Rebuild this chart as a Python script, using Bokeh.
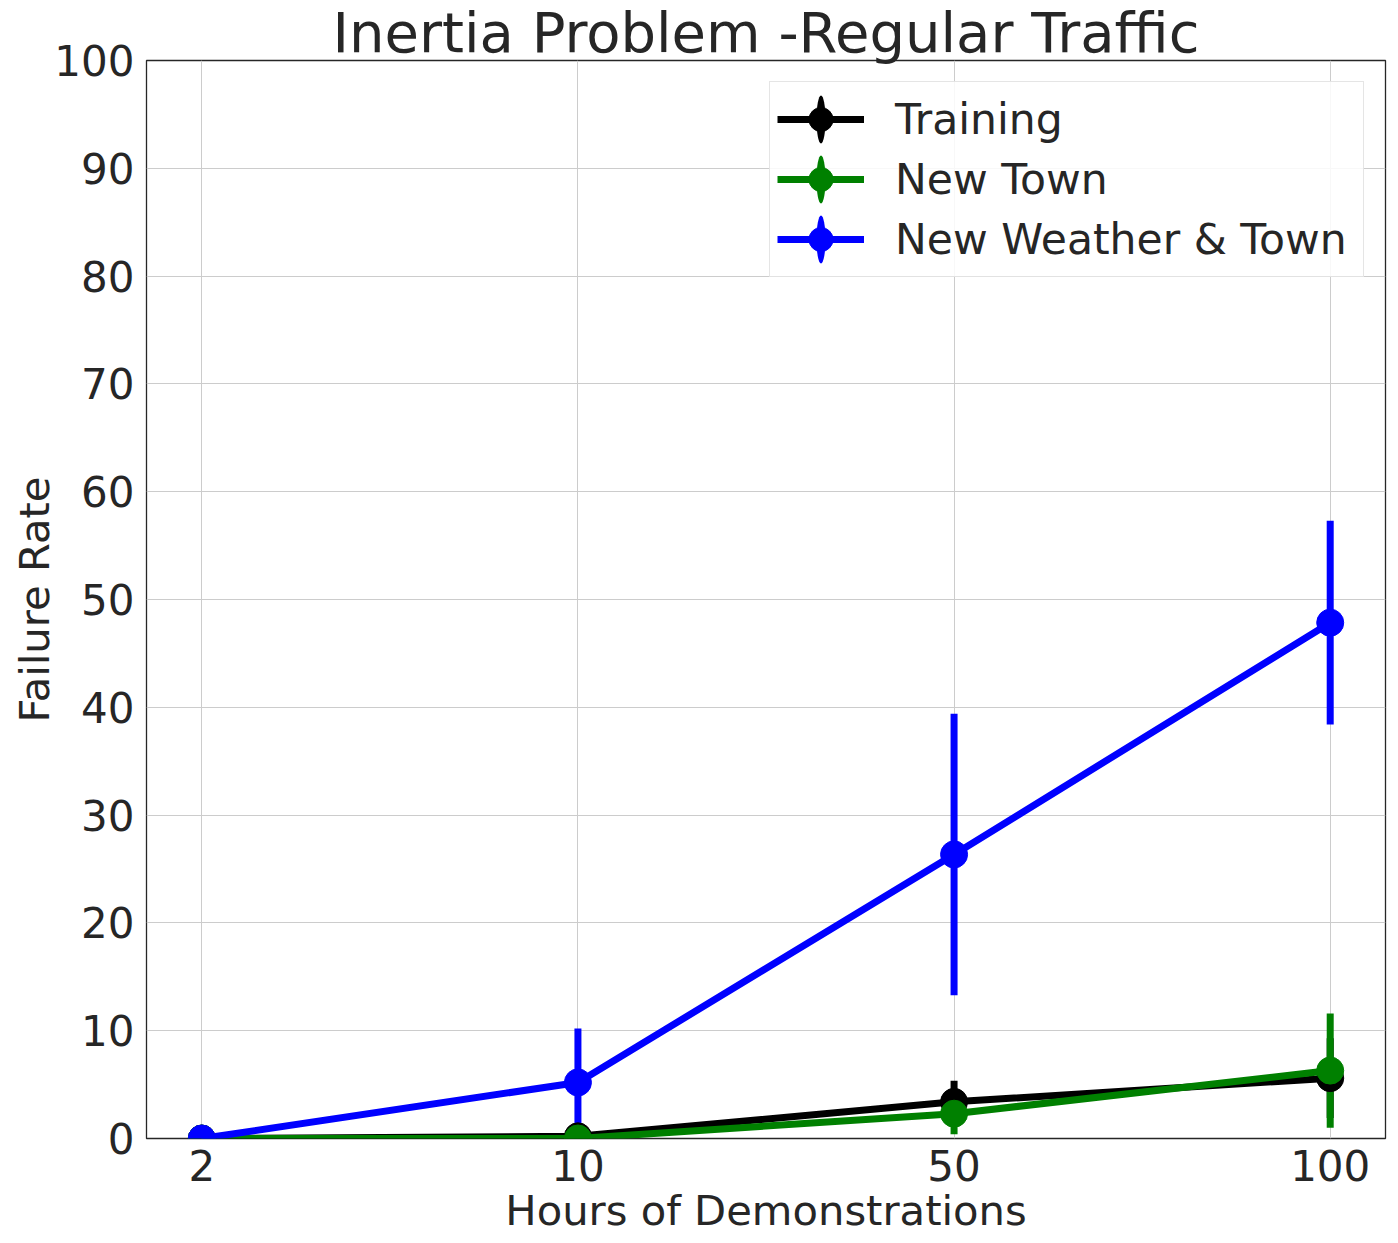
from bokeh.plotting import figure
from bokeh.models import Range1d, FixedTicker, Legend, LegendItem
from bokeh.embed import file_html
from bokeh.resources import INLINE

# ---- data ----
hours = ["2", "10", "50", "100"]
training = [0.0, 0.2, 3.4, 5.6]
training_err = [0.0, 0.4, 1.95, 3.7]
new_town = [0.0, 0.0, 2.3, 6.3]
new_town_err = [0.0, 0.0, 1.9, 5.3]
new_weather_town = [0.0, 5.2, 26.35, 47.85]
new_weather_town_err = [0.0, 5.0, 13.05, 9.45]
series_names = ["Training", "New Town", "New Weather & Town"]
series_colors = ["black", "green", "blue"]
y_ticks = list(range(0, 101, 10))

xs = list(range(len(hours)))
TEXT = "#262626"
FONT = "DejaVu Sans"

p = figure(frame_width=1239, frame_height=1078,
           min_border_left=146, min_border_right=13,
           min_border_top=60, min_border_bottom=105,
           x_range=Range1d(-0.147, 3.147), y_range=Range1d(0, 100),
           output_backend="svg", toolbar_location=None,
           background_fill_color="white", border_fill_color="white")

p.title.text = "Inertia Problem -Regular Traffic"
p.title.text_font = FONT
p.title.text_font_size = "56px"
p.title.text_font_style = "normal"
p.title.text_color = TEXT
p.title.align = "center"
p.title.standoff = -8

p.outline_line_color = TEXT
p.outline_line_width = 1.3
p.xgrid.grid_line_color = "#cccccc"
p.ygrid.grid_line_color = "#cccccc"
p.xgrid.grid_line_width = 1
p.ygrid.grid_line_width = 1

p.xaxis.ticker = FixedTicker(ticks=xs)
p.xaxis.major_label_overrides = {i: h for i, h in enumerate(hours)}
p.yaxis.ticker = FixedTicker(ticks=y_ticks)

for ax in (p.xaxis[0], p.yaxis[0]):
    ax.axis_line_color = None
    ax.major_tick_line_color = None
    ax.minor_tick_line_color = None
    ax.major_tick_out = 0
    ax.major_tick_in = 0
    ax.major_label_text_font = FONT
    ax.major_label_text_font_size = "42px"
    ax.major_label_text_color = TEXT
    ax.axis_label_text_font = FONT
    ax.axis_label_text_font_size = "41.7px"
    ax.axis_label_text_color = TEXT
    ax.axis_label_text_font_style = "normal"

p.xaxis.axis_label = "Hours of Demonstrations"
p.yaxis.axis_label = "Failure Rate"
p.xaxis.major_label_standoff = 11
p.xaxis.axis_label_standoff = 2
p.yaxis.major_label_standoff = 12
p.yaxis.axis_label_standoff = -8

all_vals = [training, new_town, new_weather_town]
all_errs = [training_err, new_town_err, new_weather_town_err]

# error bars first (drawn beneath data lines, as in matplotlib)
for vals, errs, col in zip(all_vals, all_errs, series_colors):
    lo = [v - e for v, e in zip(vals, errs)]
    hi = [v + e for v, e in zip(vals, errs)]
    p.segment(x0=xs, y0=lo, x1=xs, y1=hi, line_color=col, line_width=7)

nan = float("nan")
items = []
for vals, name, col in zip(all_vals, series_names, series_colors):
    ln = p.line(xs, vals, line_color=col, line_width=7)
    mk = p.scatter(xs, vals, marker="circle", size=27, fill_color=col, line_color=col)
    # legend-only vertical error-bar glyphs (no visible data in the plot)
    eb1 = p.ellipse(x=[nan], y=[nan], width=9, height=48,
                    width_units="screen", height_units="screen",
                    fill_color=col, line_color=None)
    eb2 = p.scatter(x=[nan], y=[nan], marker="dash", angle=1.5707963, size=27,
                    line_color=col, line_width=7, line_cap="square")
    items.append(LegendItem(label=name, renderers=[ln, eb1, mk, eb2]))

legend = Legend(items=items, location="top_right",
                label_text_font=FONT, label_text_font_size="42.5px",
                label_text_color=TEXT,
                glyph_width=87, glyph_height=60, spacing=0,
                padding=7, margin=21, label_standoff=31, label_width=461,
                border_line_color="#cccccc", border_line_width=1.3,
                background_fill_color="white", background_fill_alpha=0.85)
p.add_layout(legend, "center")

open("out.html", "w").write(file_html(p, INLINE))
